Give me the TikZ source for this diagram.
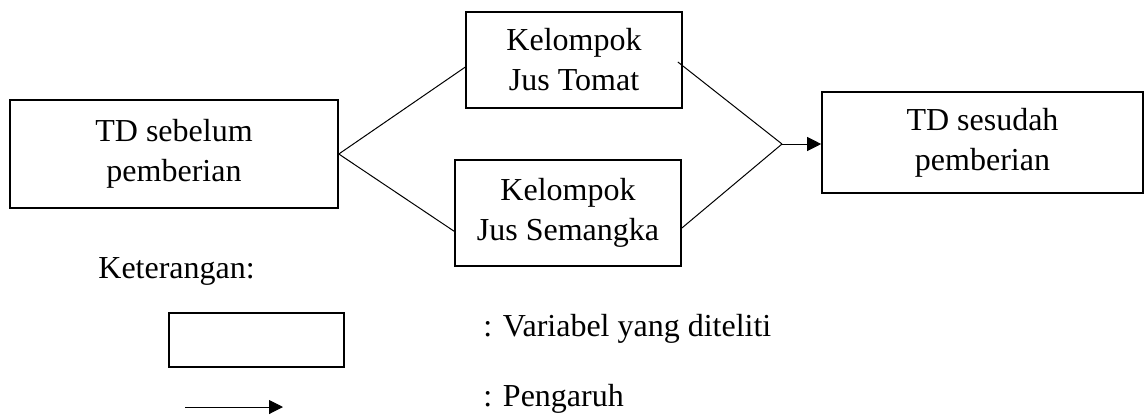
\documentclass[tikz,border=0pt]{standalone}
\usepackage{fontspec}
\setmainfont{Liberation Serif}
\usetikzlibrary{arrows.meta,calc}
\begin{document}
\begin{tikzpicture}[x=0.5pt,y=-0.5pt,
  every node/.style={font=\fontsize{16pt}{20pt}\selectfont},
  varbox/.style={draw,line width=0.8pt,rectangle,inner sep=0pt,align=center},
  conn/.style={line width=0.5pt},
  arr/.style={line width=0.5pt,-{Triangle[length=7pt,width=7pt]}},
  lbl/.style={anchor=base west,inner sep=0pt}]
\useasboundingbox (0,0) rectangle (1145,419);
\node[varbox,minimum width=164pt,minimum height=54pt] (A) at (174,154) {TD sebelum\\pemberian};
\node[varbox,minimum width=108pt,minimum height=48pt] (B) at (574,60) {Kelompok\\Jus Tomat};
\node[varbox,minimum width=113pt,minimum height=53pt] (C) at (568,213) {Kelompok\\Jus Semangka};
\node[varbox,minimum width=160.5pt,minimum height=50.5pt] (D) at (982.5,142.5) {TD sesudah\\pemberian};
\coordinate (j) at (782,144);
\draw[conn] (A.east) -- ($(B.north west)!0.573!(B.south west)$);
\draw[conn] (A.east) -- ($(C.north west)!0.67!(C.south west)$);
\draw[conn] ($(B.north east)!0.52!(B.south east)+(-5,0)$) -- (j);
\draw[conn] ($(C.north east)!0.64!(C.south east)$) -- (j);
\draw[arr] (j) -- (j -| D.west);
\node[lbl] (ket) at (98,278) {Keterangan:};
\node[varbox,minimum width=87.5pt,minimum height=27pt] (lg) at (256.5,340) {};
\coordinate (la) at (185,407);
\coordinate (lb) at (283,407);
\draw[arr] (la) -- (lb);
\node[lbl] (t1) at (483,336) {: Variabel yang diteliti};
\node[lbl] (t2) at (483,406) {: Pengaruh};
\end{tikzpicture}
\end{document}
